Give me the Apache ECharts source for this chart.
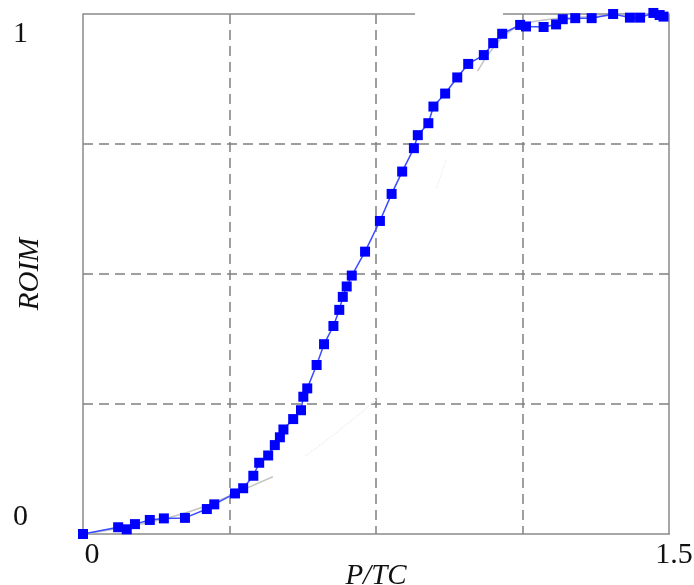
<!DOCTYPE html>
<html>
<head>
<meta charset="utf-8">
<script src="https://cdn.jsdelivr.net/npm/echarts@6/dist/echarts.min.js"></script>
<style>html,body{margin:0;padding:0;background:#fff}#c{width:694px;height:585px}</style>
</head>
<body>
<div id="c"></div>
<script>
// measured ROIM vs P/TC
var ptc = [0, 0.090, 0.112, 0.133, 0.171, 0.207, 0.261, 0.317, 0.336, 0.389, 0.410, 0.436, 0.451, 0.474, 0.491, 0.504, 0.513, 0.538, 0.558, 0.564, 0.574, 0.598, 0.617, 0.641, 0.656, 0.665, 0.675, 0.688, 0.722, 0.760, 0.790, 0.817, 0.847, 0.857, 0.884, 0.897, 0.927, 0.958, 0.986, 1.026, 1.050, 1.073, 1.119, 1.134, 1.179, 1.211, 1.228, 1.260, 1.302, 1.357, 1.400, 1.426, 1.460, 1.476, 1.486];
var roim = [0, 0.013, 0.009, 0.019, 0.027, 0.030, 0.031, 0.048, 0.057, 0.078, 0.088, 0.112, 0.137, 0.151, 0.171, 0.186, 0.201, 0.221, 0.238, 0.264, 0.280, 0.325, 0.365, 0.400, 0.431, 0.456, 0.476, 0.497, 0.543, 0.602, 0.654, 0.697, 0.742, 0.767, 0.790, 0.822, 0.847, 0.878, 0.904, 0.921, 0.944, 0.962, 0.979, 0.976, 0.975, 0.980, 0.990, 0.992, 0.992, 1.000, 0.993, 0.993, 1.002, 0.998, 0.995];
// faint reference curve (partly visible)
var refX = [0, 0.10, 0.20, 0.30, 0.40, 0.486, null, 1.01, 1.05, 1.09, 1.15, 1.30, 1.50];
var refY = [0, 0.012, 0.028, 0.050, 0.082, 0.110, null, 0.890, 0.935, 0.965, 0.985, 0.995, 1.0];
var refFaintX = [0.57, 0.69, 0.76, null, 0.905, 0.93];
var refFaintY = [0.15, 0.22, 0.265, null, 0.665, 0.72];
// top frame segments (gap in original frame)
var frameTopX = [0, 0.85, null, 1.075, 1.5];
var frameTopY = [1, 1, null, 1, 1];
var xTicks = [0, 1.5];
var yTicks = [0, 1];

function pairs(xs, ys) {
  return xs.map(function (x, i) { return x === null ? [null, null] : [x, ys[i]]; });
}
var serif = '"Liberation Serif", "DejaVu Serif", serif';
var gridLine = { show: true, showMinLine: false, showMaxLine: false, lineStyle: { color: '#808080', type: [10, 6], width: 1.5 } };
var chart = echarts.init(document.getElementById('c'));
chart.setOption({
  animation: false,
  backgroundColor: '#fff',
  grid: { left: 83, right: 25, top: 14, bottom: 51, containLabel: false, outerBoundsMode: 'none' },
  xAxis: [{
    type: 'value', min: 0, max: 1.5, interval: 0.375,
    name: 'P/TC', nameLocation: 'middle', nameGap: 28, nameMoveOverlap: false,
    nameTextStyle: { fontFamily: serif, fontStyle: 'italic', fontSize: 29, color: '#111' },
    axisLine: { show: true, lineStyle: { color: '#8a8a8a', width: 1.5 } },
    axisTick: { show: false },
    axisLabel: {
      showMinLabel: true, showMaxLabel: true, margin: 6,
      formatter: function (v) { return v === xTicks[0] ? '{a|0}' : (v === xTicks[1] ? '{b|1.5}' : ''); },
      rich: {
        a: { fontFamily: serif, fontSize: 30, color: '#111', padding: [0, 0, 0, 18] },
        b: { fontFamily: serif, fontSize: 30, color: '#111', padding: [0, 0, 0, 10] }
      }
    },
    splitLine: gridLine
  }],
  yAxis: [{
    type: 'value', min: 0, max: 1, interval: 0.25,
    name: 'ROIM', nameLocation: 'middle', nameGap: 38, nameMoveOverlap: false,
    nameTextStyle: { fontFamily: serif, fontStyle: 'italic', fontSize: 29, color: '#111' },
    axisLine: { show: true, lineStyle: { color: '#8a8a8a', width: 1.5 } },
    axisTick: { show: false },
    axisLabel: {
      showMinLabel: true, showMaxLabel: true, margin: 55,
      formatter: function (v) { return v === yTicks[1] ? '{t|1}' : (v === yTicks[0] ? '{b|0}' : ''); },
      rich: {
        t: { fontFamily: serif, fontSize: 30, color: '#111', padding: [40, 0, 0, 0] },
        b: { fontFamily: serif, fontSize: 30, color: '#111', padding: [0, 0, 34, 0] }
      }
    },
    splitLine: gridLine
  }, {
    type: 'value', min: 0, max: 1, position: 'right',
    axisLine: { show: true, onZero: false, lineStyle: { color: '#8a8a8a', width: 1.5 } },
    axisTick: { show: false }, axisLabel: { show: false }, splitLine: { show: false }
  }],
  series: [{
    type: 'line', data: pairs(frameTopX, frameTopY), symbol: 'none', clip: false, silent: true,
    connectNulls: false, lineStyle: { color: '#8a8a8a', width: 1.5 }, z: 1
  }, {
    type: 'line', data: pairs(refFaintX, refFaintY), symbol: 'none', smooth: true, silent: true,
    connectNulls: false, lineStyle: { color: '#ececec', width: 1.2, type: 'dotted' }, z: 2
  }, {
    type: 'line', data: pairs(refX, refY), symbol: 'none', smooth: true, silent: true,
    connectNulls: false, lineStyle: { color: '#c4c4c4', width: 1.5 }, z: 2
  }, {
    type: 'line', data: pairs(ptc, roim), symbol: 'rect', symbolSize: 10, clip: false,
    lineStyle: { color: '#3a4cff', width: 1.5 },
    itemStyle: { color: '#0000ff' }, z: 5
  }]
});
</script>
</body>
</html>
